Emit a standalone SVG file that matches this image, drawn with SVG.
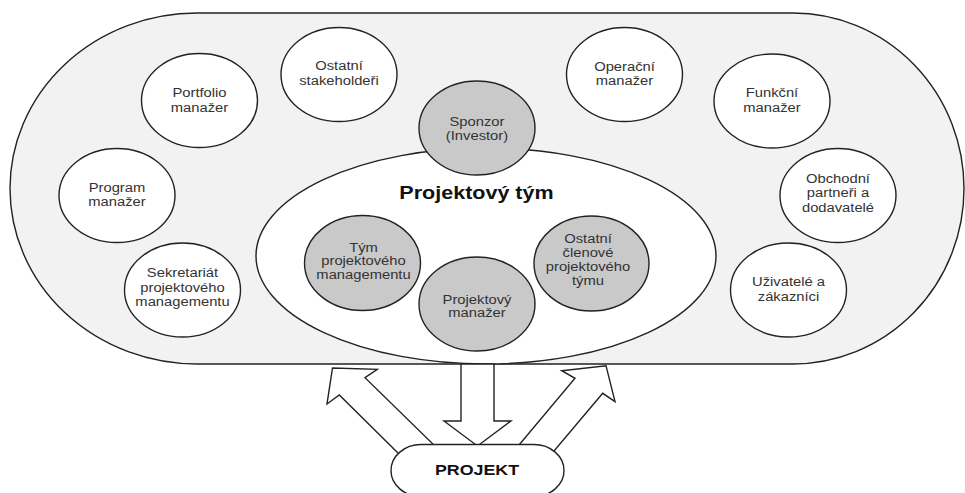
<svg xmlns="http://www.w3.org/2000/svg" width="965" height="493" viewBox="0 0 965 493">
  <style>
    .line { stroke: #222; stroke-width: 1.4; }
    .outer { fill: #f2f2f2; }
    .white { fill: #ffffff; }
    .grey { fill: #c9c9c9; }
    .lbl { font-family: "Liberation Sans", Arial, sans-serif; font-size: 12px; fill: #333; text-anchor: middle; }
    .title { font-family: "Liberation Sans", Arial, sans-serif; font-size: 17.5px; font-weight: bold; fill: #111; text-anchor: middle; }
    .proj { font-family: "Liberation Sans", Arial, sans-serif; font-size: 14.5px; font-weight: bold; fill: #111; text-anchor: middle; }
    .arrow { fill: #ffffff; stroke: #222; stroke-width: 1.4; stroke-linejoin: miter; }
  </style>

  <!-- stakeholder field -->
  <g id="stakeholders">
    <path class="outer line" d="M197,13 H793 A171,175.5 0 0 1 793,364 H197 A187,175.5 0 0 1 197,13 Z"/>
  </g>

  <!-- project team -->
  <g id="projektovy-tym">
    <ellipse class="white line" cx="486" cy="256" rx="230" ry="108"/>
    <text class="title" transform="translate(476.5 0) scale(1.23 1)" x="0" y="199">Projektový tým</text>
  </g>

  <g id="sponzor">
    <ellipse class="grey line" cx="477" cy="128" rx="58" ry="47"/>
    <text class="lbl" transform="translate(477 0) scale(1.23 1)"><tspan x="0" y="126.5">Sponzor</tspan><tspan x="0" y="140.5">(Investor)</tspan></text>
  </g>

  <g id="ostatni-stakeholderi">
    <ellipse class="white line" cx="339" cy="74.5" rx="58" ry="47"/>
    <text class="lbl" transform="translate(339 0) scale(1.23 1)"><tspan x="0" y="70">Ostatní</tspan><tspan x="0" y="85">stakeholdeři</tspan></text>
  </g>

  <g id="portfolio-manazer">
    <ellipse class="white line" cx="199.5" cy="100.5" rx="58" ry="47"/>
    <text class="lbl" transform="translate(199.5 0) scale(1.23 1)"><tspan x="0" y="96.7">Portfolio</tspan><tspan x="0" y="111.7">manažer</tspan></text>
  </g>

  <g id="program-manazer">
    <ellipse class="white line" cx="117" cy="195.5" rx="58" ry="47"/>
    <text class="lbl" transform="translate(117 0) scale(1.23 1)"><tspan x="0" y="192.5">Program</tspan><tspan x="0" y="206">manažer</tspan></text>
  </g>

  <g id="sekretariat">
    <ellipse class="white line" cx="182.5" cy="290" rx="58" ry="47"/>
    <text class="lbl" transform="translate(182.5 0) scale(1.23 1)"><tspan x="0" y="277.5">Sekretariát</tspan><tspan x="0" y="291.7">projektového</tspan><tspan x="0" y="305.7">managementu</tspan></text>
  </g>

  <g id="operacni-manazer">
    <ellipse class="white line" cx="624.5" cy="74.5" rx="58" ry="47"/>
    <text class="lbl" transform="translate(624.5 0) scale(1.23 1)"><tspan x="0" y="70.7">Operační</tspan><tspan x="0" y="85">manažer</tspan></text>
  </g>

  <g id="funkcni-manazer">
    <ellipse class="white line" cx="772" cy="101" rx="58" ry="47"/>
    <text class="lbl" transform="translate(772 0) scale(1.23 1)"><tspan x="0" y="97.3">Funkční</tspan><tspan x="0" y="112.3">manažer</tspan></text>
  </g>

  <g id="obchodni-partneri">
    <ellipse class="white line" cx="838" cy="195.5" rx="58" ry="47"/>
    <text class="lbl" transform="translate(838 0) scale(1.23 1)"><tspan x="0" y="183.3">Obchodní</tspan><tspan x="0" y="197.3">partneři a</tspan><tspan x="0" y="211.7">dodavatelé</tspan></text>
  </g>

  <g id="uzivatele">
    <ellipse class="white line" cx="788.5" cy="290" rx="58" ry="47"/>
    <text class="lbl" transform="translate(788.5 0) scale(1.23 1)"><tspan x="0" y="285.7">Uživatelé a</tspan><tspan x="0" y="300.7">zákazníci</tspan></text>
  </g>

  <g id="tym-pm">
    <ellipse class="grey line" cx="362.5" cy="263" rx="58" ry="47.5"/>
    <text class="lbl" transform="translate(363.5 0) scale(1.23 1)"><tspan x="0" y="251.7">Tým</tspan><tspan x="0" y="265.5">projektového</tspan><tspan x="0" y="279">managementu</tspan></text>
  </g>

  <g id="projektovy-manazer">
    <ellipse class="grey line" cx="477" cy="304" rx="58" ry="47"/>
    <text class="lbl" transform="translate(477 0) scale(1.23 1)"><tspan x="0" y="304">Projektový</tspan><tspan x="0" y="317.5">manažer</tspan></text>
  </g>

  <g id="ostatni-clenove">
    <ellipse class="grey line" cx="591.5" cy="263.5" rx="57.5" ry="47.5"/>
    <text class="lbl" transform="translate(588 0) scale(1.23 1)"><tspan x="0" y="243.3">Ostatní</tspan><tspan x="0" y="257.3">členové</tspan><tspan x="0" y="271.5">projektového</tspan><tspan x="0" y="285">týmu</tspan></text>
  </g>

  <!-- block arrows between the project and its surroundings -->
  <g id="connectors">
    <polygon class="arrow" points="400,455 339.3,395 327,404 332.5,368 377.3,369.3 365,377.7 436,447"/>
    <polygon class="arrow" points="461,364 461,421 444,421 477.5,446 511,421 494,421 494,364"/>
    <polygon class="arrow" points="516.5,448 575,378.3 561.7,370.7 606,365.7 615,401.7 602.7,393.3 551.5,454"/>
  </g>

  <g id="projekt">
    <rect class="white line" x="391" y="444.5" width="173" height="52" rx="30" ry="26"/>
    <text class="proj" transform="translate(477 0) scale(1.23 1)" x="0" y="475">PROJEKT</text>
  </g>
</svg>
